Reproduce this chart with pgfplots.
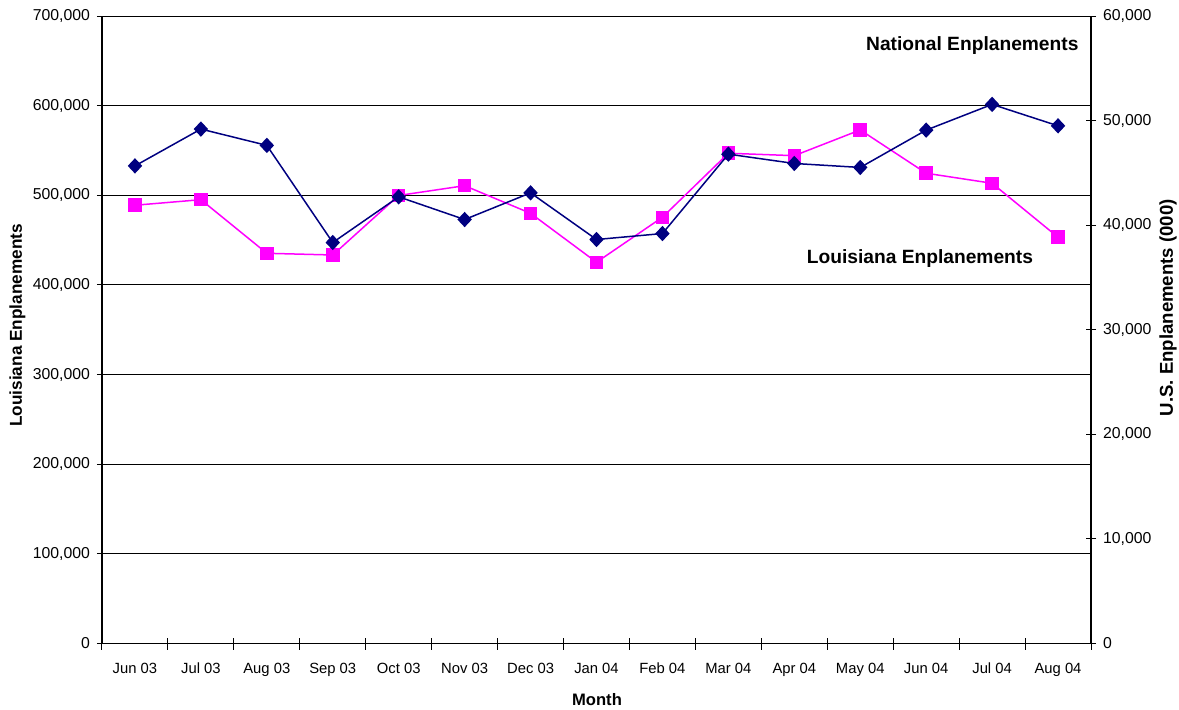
\documentclass[border=0pt]{standalone}
\usepackage{fontspec}
\setmainfont{Liberation Sans}
\usepackage{pgfplots}
\usepackage{pgfplotstable}
\pgfplotsset{compat=1.18}

\definecolor{natnavy}{RGB}{0,0,128}
\definecolor{lamag}{RGB}{255,0,255}

% Monthly enplanements: Louisiana (left axis) and U.S. in thousands (right axis)
\pgfplotstableread{
idx louisiana national
0   488900    45670
1   495100    49190
2   435300    47630
3   433400    38340
4   499800    42710
5   510700    40540
6   479900    43090
7   425300    38630
8   475500    39200
9   546900    46790
10  544200    45900
11  572900    45520
12  524600    49090
13  513400    51550
14  453200    49500
}\enplanements

\pgfplotsset{
  enpbase/.style={
    at={(0,0)}, anchor=south west,
    scale only axis, width=494.5pt, height=313.75pt,
    xmin=-0.5, xmax=14.5, ymin=0,
    /pgf/number format/assume math mode=true,
    /pgf/number format/fixed,
    /pgf/number format/precision=0,
    /pgf/number format/1000 sep={,},
    scaled y ticks=false,
    yticklabel style={font=\fontsize{7.9}{9}\selectfont, text=black},
    xticklabel style={font=\fontsize{7.4}{9}\selectfont, text=black, yshift=-5pt},
    axis line style={black, line width=0.6pt, -},
    tick style={black, line width=0.5pt},
    clip=false,
  }
}

\begin{document}
\begin{tikzpicture}
\useasboundingbox (-51pt,-32.75pt) rectangle (538.5pt,321.75pt);

\begin{axis}[enpbase,
  ymax=700000, ytick={0,100000,...,700000},
  axis x line*=bottom, axis y line*=left,
  ymajorgrids, grid style={black, line width=0.5pt},
  xtick={0,...,14},
  xticklabels={Jun 03,Jul 03,Aug 03,Sep 03,Oct 03,Nov 03,Dec 03,Jan 04,Feb 04,Mar 04,Apr 04,May 04,Jun 04,Jul 04,Aug 04},
  major x tick style={draw=none},
  minor xtick={-0.5,0.5,...,14.5},
  xtick align=center, ytick align=outside,
  major tick length=2.5pt, minor tick length=6pt,
]
\addplot[lamag, line width=0.75pt, mark=square*, mark size=3pt,
  mark options={solid, fill=lamag, draw=lamag}]
  table[x=idx, y=louisiana] {\enplanements};

\node[font=\bfseries\fontsize{8.6}{10}\selectfont, rotate=90]
  at (axis description cs:-0.0854,0.507) {Louisiana Enplanements};
\node[font=\bfseries\fontsize{8.3}{10}\selectfont]
  at (axis description cs:0.5005,-0.0892) {Month};
\end{axis}

\begin{axis}[enpbase,
  ymax=60000, ytick={0,10000,...,60000},
  hide x axis, axis y line*=right,
  ytick align=center, major tick length=5pt,
]
\addplot[natnavy, line width=0.75pt, mark=diamond*, mark size=3.3pt,
  mark options={solid, fill=natnavy, draw=natnavy, xscale=1.25}]
  table[x=idx, y=national] {\enplanements};

\node[font=\bfseries\fontsize{9.3}{11}\selectfont, rotate=90]
  at (axis description cs:1.078,0.535) {U.S. Enplanements (000)};
\node[font=\bfseries\fontsize{9.6}{11}\selectfont]
  at (axis description cs:0.880,0.953) {National Enplanements};
\node[font=\bfseries\fontsize{9.6}{11}\selectfont]
  at (axis description cs:0.827,0.613) {Louisiana Enplanements};
\end{axis}
\end{tikzpicture}
\end{document}
